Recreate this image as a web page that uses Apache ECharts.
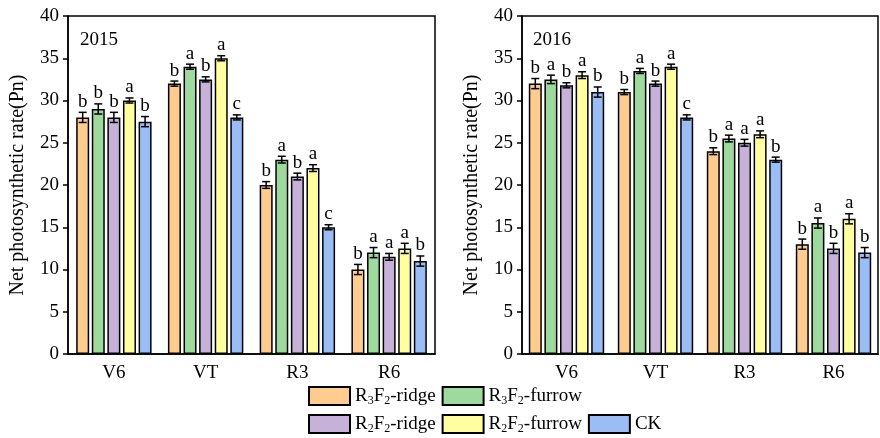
<!DOCTYPE html>
<html><head><meta charset="utf-8">
<script src="https://cdn.jsdelivr.net/npm/echarts@6/dist/echarts.min.js"></script>
<style>html,body{margin:0;padding:0;background:#fff}#c{width:880px;height:438px}</style>
</head><body><div id="c"></div>
<script>
const categories = ['V6', 'VT', 'R3', 'R6'];
const seriesNames = ['R3F2-ridge', 'R3F2-furrow', 'R2F2-ridge', 'R2F2-furrow', 'CK'];
const colors = ['#FFCC8F', '#9ED99E', '#C6B2D8', '#FFFFA0', '#9BBDF5'];
const yTicks = [0, 5, 10, 15, 20, 25, 30, 35, 40];

// 2015
const r3f2Ridge2015 = [28.0, 32.0, 20.0, 10.0];
const r3f2Furrow2015 = [29.0, 34.0, 23.0, 12.0];
const r2f2Ridge2015 = [28.0, 32.5, 21.0, 11.5];
const r2f2Furrow2015 = [30.0, 35.0, 22.0, 12.5];
const ck2015 = [27.5, 28.0, 15.0, 11.0];
const r3f2RidgeErr2015 = [0.6, 0.3, 0.4, 0.6];
const r3f2FurrowErr2015 = [0.6, 0.3, 0.4, 0.6];
const r2f2RidgeErr2015 = [0.6, 0.3, 0.4, 0.4];
const r2f2FurrowErr2015 = [0.3, 0.3, 0.4, 0.6];
const ckErr2015 = [0.6, 0.3, 0.3, 0.6];
const r3f2RidgeSig2015 = ['b', 'b', 'b', 'b'];
const r3f2FurrowSig2015 = ['b', 'a', 'a', 'a'];
const r2f2RidgeSig2015 = ['b', 'b', 'b', 'a'];
const r2f2FurrowSig2015 = ['a', 'a', 'a', 'a'];
const ckSig2015 = ['b', 'c', 'c', 'b'];

// 2016
const r3f2Ridge2016 = [32.0, 31.0, 24.0, 13.0];
const r3f2Furrow2016 = [32.5, 33.5, 25.5, 15.5];
const r2f2Ridge2016 = [31.8, 32.0, 25.0, 12.5];
const r2f2Furrow2016 = [33.0, 34.0, 26.0, 16.0];
const ck2016 = [31.0, 28.0, 23.0, 12.0];
const r3f2RidgeErr2016 = [0.6, 0.3, 0.4, 0.6];
const r3f2FurrowErr2016 = [0.5, 0.3, 0.4, 0.6];
const r2f2RidgeErr2016 = [0.3, 0.3, 0.4, 0.6];
const r2f2FurrowErr2016 = [0.4, 0.3, 0.4, 0.6];
const ckErr2016 = [0.6, 0.3, 0.3, 0.6];
const r3f2RidgeSig2016 = ['b', 'b', 'b', 'b'];
const r3f2FurrowSig2016 = ['a', 'a', 'a', 'a'];
const r2f2RidgeSig2016 = ['b', 'b', 'a', 'b'];
const r2f2FurrowSig2016 = ['a', 'a', 'a', 'a'];
const ckSig2016 = ['b', 'c', 'b', 'b'];

const years = ['2015', '2016'];
const valuesByYear = [
  [r3f2Ridge2015, r3f2Furrow2015, r2f2Ridge2015, r2f2Furrow2015, ck2015],
  [r3f2Ridge2016, r3f2Furrow2016, r2f2Ridge2016, r2f2Furrow2016, ck2016]
];
const errsByYear = [
  [r3f2RidgeErr2015, r3f2FurrowErr2015, r2f2RidgeErr2015, r2f2FurrowErr2015, ckErr2015],
  [r3f2RidgeErr2016, r3f2FurrowErr2016, r2f2RidgeErr2016, r2f2FurrowErr2016, ckErr2016]
];
const sigByYear = [
  [r3f2RidgeSig2015, r3f2FurrowSig2015, r2f2RidgeSig2015, r2f2FurrowSig2015, ckSig2015],
  [r3f2RidgeSig2016, r3f2FurrowSig2016, r2f2RidgeSig2016, r2f2FurrowSig2016, ckSig2016]
];

const FONT = 'Liberation Serif';
const BAR_W = 13;
const BAR_GAP = 0.2;

const grids = [
  { left: 68, right: 445, top: 16, bottom: 84, show: true, borderColor: '#000', borderWidth: 1.5, backgroundColor: 'transparent' },
  { left: 522, right: 2, top: 16, bottom: 84, show: true, borderColor: '#000', borderWidth: 1.5, backgroundColor: 'transparent' }
];

const xAxes = grids.map((g, i) => ({
  type: 'category', gridIndex: i, data: categories,
  axisLine: { lineStyle: { color: '#000', width: 1.5 } },
  axisTick: { alignWithLabel: true, length: 5, lineStyle: { color: '#000', width: 1.5 } },
  axisLabel: { color: '#000', fontFamily: FONT, fontSize: 19, margin: 10 }
}));
const yAxes = grids.map((g, i) => ({
  type: 'value', gridIndex: i, min: 0, max: 40, interval: 5,
  name: 'Net photosynthetic rate(Pn)', nameLocation: 'middle', nameGap: 40,
  nameTextStyle: { color: '#000', fontFamily: FONT, fontSize: 20 },
  axisLine: { show: true, lineStyle: { color: '#000', width: 1.5 } },
  axisTick: { show: true, length: 5, lineStyle: { color: '#000', width: 1.5 } },
  axisLabel: { color: '#000', fontFamily: FONT, fontSize: 19, margin: 9,
    formatter: v => (yTicks.indexOf(v) >= 0 ? String(v) : '') },
  splitLine: { show: false }
}));

const series = [];
for (let g = 0; g < 2; g++) {
  for (let s = 0; s < 5; s++) {
    series.push({
      name: seriesNames[s], type: 'bar', xAxisIndex: g, yAxisIndex: g,
      data: valuesByYear[g][s], barWidth: BAR_W, barGap: (BAR_GAP * 100) + '%',
      itemStyle: { color: colors[s], borderColor: '#000', borderWidth: 1.5 },
      emphasis: { disabled: true }, z: 2
    });
  }
  for (let s = 0; s < 5; s++) {
    const vals = valuesByYear[g][s], errs = errsByYear[g][s], sigs = sigByYear[g][s];
    series.push({
      type: 'custom', xAxisIndex: g, yAxisIndex: g, z: 5, silent: true,
      data: vals.map((v, j) => [j, v, errs[j]]),
      encode: { x: 0, y: 1 },
      renderItem: function (params, api) {
        const j = api.value(0), v = api.value(1), e = api.value(2);
        const off = (s - 2) * BAR_W * (1 + BAR_GAP);
        const top = api.coord([j, v + e]);
        const bot = api.coord([j, v - e]);
        const cx = top[0] + off;
        const cap = 4;
        const st = { stroke: '#000', lineWidth: 1.5 };
        return {
          type: 'group', children: [
            { type: 'line', shape: { x1: cx, y1: top[1], x2: cx, y2: bot[1] }, style: st },
            { type: 'line', shape: { x1: cx - cap, y1: top[1], x2: cx + cap, y2: top[1] }, style: st },
            { type: 'line', shape: { x1: cx - cap, y1: bot[1], x2: cx + cap, y2: bot[1] }, style: st },
            { type: 'text', style: { text: sigs[params.dataIndex], x: cx, y: top[1] - 1,
              textAlign: 'center', textVerticalAlign: 'bottom', fill: '#000',
              font: '19px "' + FONT + '"' } }
          ]
        };
      }
    });
  }
}

function legendFmt(name) {
  const m = name.match(/^R(\d)F(\d)(.*)$/);
  if (m) return '{n|R}{s|' + m[1] + '}{n|F}{s|' + m[2] + '}{n|' + m[3] + '}';
  return '{n|' + name + '}';
}
const legendText = {
  color: '#000', fontFamily: FONT, fontSize: 19,
  rich: {
    n: { fontFamily: FONT, fontSize: 19, lineHeight: 22, color: '#000' },
    s: { fontFamily: FONT, fontSize: 12, lineHeight: 12, verticalAlign: 'bottom', color: '#000' }
  }
};
const legends = [
  { data: seriesNames.slice(0, 2), left: 308, top: 386 },
  { data: seriesNames.slice(2), left: 308, top: 414 }
].map(l => Object.assign({
  orient: 'horizontal', icon: 'rect', itemWidth: 41, itemHeight: 18, itemGap: 6,
  selectedMode: false, formatter: legendFmt, textStyle: legendText, padding: 0
}, l));

const option = {
  animation: false,
  grid: grids, xAxis: xAxes, yAxis: yAxes, legend: legends, series: series,
  graphic: [
    { type: 'text', left: 80, top: 31, style: { text: years[0], font: '19px "' + FONT + '"', fill: '#000' } },
    { type: 'text', left: 533, top: 31, style: { text: years[1], font: '19px "' + FONT + '"', fill: '#000' } }
  ]
};
const chart = echarts.init(document.getElementById('c'), null, { renderer: 'canvas' });
chart.setOption(option);
</script></body></html>
